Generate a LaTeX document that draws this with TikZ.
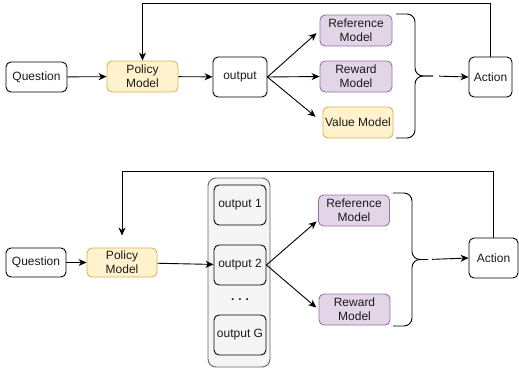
\documentclass[tikz,border=0pt]{standalone}
\usepackage{fontspec}
\setmainfont{Liberation Sans}
\usepackage{tikz}
\usetikzlibrary{calc,arrows.meta}
\definecolor{ylwfill}{HTML}{FFF2CC}
\definecolor{ylwline}{HTML}{D6B656}
\definecolor{prpfill}{HTML}{E1D5E7}
\definecolor{prpline}{HTML}{9673A6}
\definecolor{grpfill}{HTML}{F5F5F5}
\definecolor{grpline}{HTML}{666666}
\definecolor{txtgray}{HTML}{1A1A1A}

\begin{document}
\begin{tikzpicture}[x=1pt,y=-1pt,line width=0.9pt,
    box/.style={draw=black,rounded corners=5pt,align=center,inner sep=2pt,text=txtgray,
        font=\fontsize{12}{14}\selectfont},
    policy/.style={box,draw=ylwline,fill=ylwfill},
    judge/.style={box,draw=prpline,fill=prpfill},
    grpbox/.style={draw=grpline,fill=grpfill,rounded corners=8pt},
    arr/.style={-{Stealth[length=8pt,width=7pt,inset=2.5pt]}},
    brc/.style={rounded corners=8pt}]
    \useasboundingbox (0,0) rectangle (519,372);
    % PPO
    \node[box,minimum width=61,minimum height=30] (q1) at (36.5,77) {Question};
    \node[policy,minimum width=71,minimum height=31] (pol1) at (142.5,76.5) {Policy\\Model};
    \node[box,minimum width=54,minimum height=40] (out1) at (240,77) {output};
    \node[judge,minimum width=72,minimum height=31] (ref1) at (356,30.5) {Reference\\Model};
    \node[judge,minimum width=72,minimum height=31] (rew1) at (356,76.5) {Reward\\Model};
    \node[policy,minimum width=70,minimum height=31] (val1) at (358,122.5) {Value Model};
    \node[box,minimum width=43,minimum height=40] (act1) at (490.5,77) {Action};
    \coordinate (tip1) at (433,76);
    \draw[brc] (396,14) -- (415,14) -- (415,76) -- (tip1);
    \draw[brc] (396,138) -- (415,138) -- (415,76) -- (tip1);
    \draw[arr] (q1) -- (pol1);
    \draw[arr] (pol1) -- (out1);
    \draw[arr,shorten >=4pt] (out1.east) -- (ref1.west);
    \draw[arr] (out1.east) -- (rew1.west);
    \draw[arr,shorten >=9pt] (out1.east) -- (val1.west);
    \draw[arr,shorten <=6pt] (tip1) -- (act1.west);
    \draw[arr] (act1.north) -- ++(0,-53) -| (pol1.north);
    % GRPO
    \node[box,minimum width=60,minimum height=29] (q2) at (36,262.5) {Question};
    \node[policy,minimum width=70,minimum height=29] (pol2) at (122,262.5) {Policy\\Model};
    \node[grpbox,minimum width=62,minimum height=189] (grp) at (239,272.5) {};
    \node[box,minimum width=52,minimum height=40] (o1) at (240,205) {output 1};
    \node[box,minimum width=52,minimum height=40] (o2) at (240,265) {output 2};
    \node[box,draw=none,font=\fontsize{12}{14}\bfseries] (dots) at (240,300) {.\hspace{4pt}.\hspace{4pt}.};
    \node[box,minimum width=52,minimum height=40] (oG) at (240,335) {output G};
    \node[judge,minimum width=71,minimum height=31] (ref2) at (354,210.5) {Reference\\Model};
    \node[judge,minimum width=71,minimum height=31] (rew2) at (354.5,309.5) {Reward\\Model};
    \node[box,minimum width=49,minimum height=40] (act2) at (493.5,258) {Action};
    \coordinate (tip2) at (428,259.5);
    \draw[brc] (393,193) -- (412,193) -- (412,259.5) -- (tip2);
    \draw[brc] (393,326) -- (412,326) -- (412,259.5) -- (tip2);
    \draw[arr] (q2) -- (pol2);
    \draw[arr] (pol2) -- (o2);
    \draw[arr,shorten >=2pt] (o2.east) -- (ref2.195);
    \draw[arr,shorten >=3pt] (o2.east) -- (rew2.west);
    \draw[arr,shorten <=4pt] (tip2) -- (act2.west);
    \draw[arr,shorten >=12pt] (act2.north) -- ++(0,-66) -| (pol2.north);
\end{tikzpicture}
\end{document}
